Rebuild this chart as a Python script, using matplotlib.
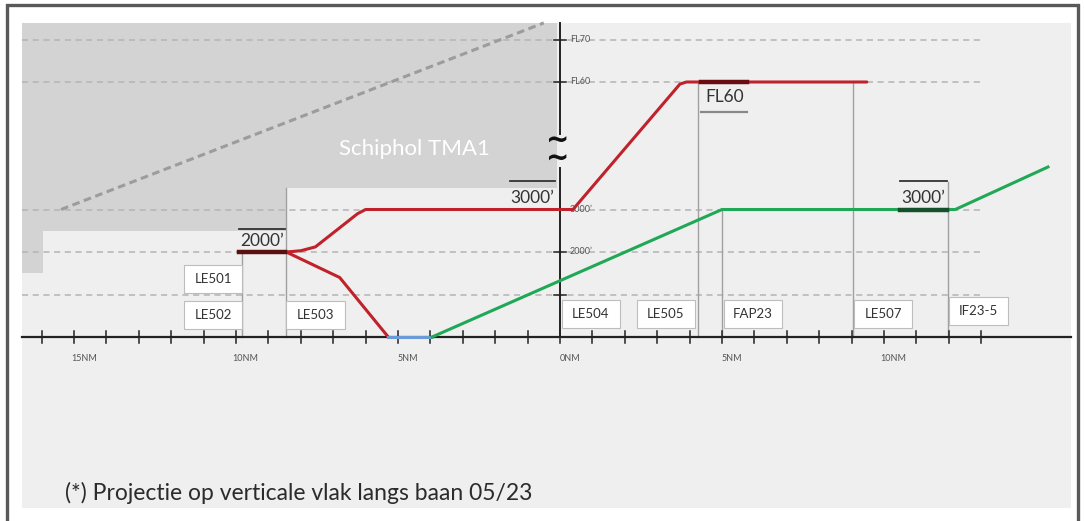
import matplotlib.pyplot as plt
from matplotlib.patches import Rectangle, Polygon

plt.rcParams['font.family'] = ['Lato', 'DejaVu Sans']

# afstand langs baan 05/23 in NM (0 = 0NM), hoogte in ft
tma_nm = [-0.1, -0.1, -8.45, -8.45, -15.95, -15.95]
tma_ft = [7400, 3500, 3500, 2500, 2500, 1500]

grid_ft = [1000, 2000, 3000, 6000, 7000]
alt_labels = ['', '2000’', '3000’', 'FL60', 'FL70']

tick_nm = list(range(-16, 14))
nm_label_pos = [-15, -10, -5, 0, 5, 10]
nm_labels = ['15NM', '10NM', '5NM', '0NM', '5NM', '10NM']

diag_nm = [-15.4, -0.5]
diag_ft = [3000, 7390]

red_nm = [-9.8, -8.45, -8.0, -7.55, -6.25, -6.0, 0.4, 3.7, 3.9, 9.47]
red_ft = [2000, 2000, 2030, 2120, 2900, 3000, 3000, 5950, 6000, 6000]
red_low_nm = [-8.45, -6.8, -5.3]
red_low_ft = [2000, 1400, 0]
blue_nm = [-5.3, -3.95]
blue_ft = [0, 0]
green_nm = [-3.95, 5.0, 12.2, 15.06]
green_ft = [0, 3000, 3000, 4000]

# verticale hulplijnen bij de waypoints (positie, bovenkant)
vline_nm = [-9.8, -8.45, 4.26, 5.0, 9.03, 11.98]
vline_top = [2000, 3500, 6000, 3000, 6000, 3650]

# waypoint labels: naam, linkerkant, onderkant
wp_names = ['LE501', 'LE502', 'LE503', 'LE504', 'LE505', 'FAP23', 'LE507', 'IF23-5']
wp_left = [-11.6, -11.6, -8.45, 0.05, 2.37, 5.05, 9.07, 12.02]
wp_bottom = [1030, 190, 190, 210, 210, 210, 210, 280]

# hoogterestricties: tekst, van, tot, hoogte van de streep onder de tekst
lim_text = ['2000’', '3000’', '3000’']
lim_from = [-9.9, -1.55, 10.5]
lim_to = [-8.5, -0.15, 11.93]
lim_bar = [2000, None, 3000]

W, H = 1084, 521
X0, SX = 560, 32.4      # px van 0NM, px per NM
Y0, SY = 337, 0.0425    # px van 0 ft, px per ft


def px_x(p):
    return (p - X0) / SX


def px_y(p):
    return (Y0 - p) / SY


fig = plt.figure(figsize=(W / 100, H / 100), dpi=100)
ax = fig.add_axes([0, 0, 1, 1])
ax.set_xlim(px_x(0), px_x(W))
ax.set_ylim(px_y(H), px_y(0))
ax.axis('off')

# kader en achtergrond
ax.add_patch(Rectangle((px_x(7), px_y(540)), px_x(1078) - px_x(7), px_y(5) - px_y(540),
                       fill=False, ec='#595959', lw=2.4, zorder=0))
pl, pr, pt, pb = px_x(22), px_x(1071), px_y(23), px_y(508)
ax.add_patch(Rectangle((pl, pb), pr - pl, pt - pb, fc='#efefef', ec='none', zorder=0))

# Schiphol TMA1
shade = [(pl, pt)] + list(zip(tma_nm, tma_ft)) + [(pl, tma_ft[-1])]
shade[1] = (tma_nm[0], pt)
ax.add_patch(Polygon(shade, closed=True, fc='#d3d3d3', ec='none', zorder=1))
ax.text(px_x(414), px_y(149), 'Schiphol TMA1', color='white', fontsize=16,
        ha='center', va='center', zorder=2)

# horizontale stippellijnen
for lvl in grid_ft:
    ax.plot([pl, 13.05], [lvl, lvl], color='#b4b4b4', lw=1.1, ls=(0, (4, 3)), zorder=2)
ax.plot(diag_nm, diag_ft, color='#9c9c9c', lw=2.2, ls=(0, (2.5, 1.5)), zorder=2)

for xv, top in zip(vline_nm, vline_top):
    ax.plot([xv, xv], [0, top], color='#a0a0a0', lw=1.0, zorder=3)

# assen
ax.plot([pl, pr], [0, 0], color='#222222', lw=1.6, zorder=4)
for t in tick_nm:
    ax.plot([t, t], [-130, 130], color='#222222', lw=1.1, zorder=4)
for pos, lab in zip(nm_label_pos, nm_labels):
    ax.text(pos + 0.3, -500, lab, fontsize=6.5, color='#555555', ha='center', va='center')
ax.plot([0, 0], [0, px_y(168)], color='#222222', lw=1.4, zorder=4)
ax.plot([0, 0], [px_y(134), pt], color='#222222', lw=1.4, zorder=4)
for lvl, lab in zip(grid_ft, alt_labels):
    ax.plot([-0.2, 0.2], [lvl, lvl], color='#222222', lw=1.1, zorder=4)
    ax.text(0.3, lvl, lab, fontsize=6.5, color='#555555', ha='left', va='center', zorder=4)
# onderbrekingsteken op de hoogte-as
ax.text(px_x(558), px_y(150), '~\n~', fontsize=20, fontweight='bold', color='#111111',
        family='DejaVu Sans', ha='center', va='center', linespacing=0.55, zorder=5)

# waypoint labels
for name, left, bottom in zip(wp_names, wp_left, wp_bottom):
    ax.add_patch(Rectangle((left, bottom), 1.8, 660, fc='white', ec='#bdbdbd', lw=0.8, zorder=5))
    ax.text(left + 0.9, bottom + 330, name, fontsize=9.5, color='#333333',
            ha='center', va='center', zorder=6)

# profielen
ax.plot(red_low_nm, red_low_ft, color='#c0222b', lw=2.2, zorder=6, solid_capstyle='round')
ax.plot(red_nm, red_ft, color='#c0222b', lw=2.2, zorder=6, solid_capstyle='round')
ax.plot(blue_nm, blue_ft, color='#6a9bd8', lw=2.2, zorder=6)
ax.plot(green_nm, green_ft, color='#1fa855', lw=2.2, zorder=6)

# hoogterestricties
for txt, x0, x1, bar in zip(lim_text, lim_from, lim_to, lim_bar):
    top = 2540 if bar == 2000 else 3660
    ax.plot([x0, x1], [top, top], color='#333333', lw=1.3, zorder=7)
    ty = 2270 if bar == 2000 else 3270
    ax.text((x0 + x1) / 2, ty, txt, fontsize=12.5, color='#333333', ha='center', va='center', zorder=7)
    if bar is not None:
        ax.plot([x0, x1], [bar, bar], color='#5a1010' if bar == 2000 else '#14502c', lw=3.2, zorder=7)

ax.plot([4.34, 5.76], [6000, 6000], color='#6a0d12', lw=3.2, zorder=7)
ax.text(5.08, px_y(97), 'FL60', fontsize=12.5, color='#333333', ha='center', va='center', zorder=7)
ax.plot([4.34, 5.76], [px_y(112)] * 2, color='#888888', lw=1.6, zorder=7)

ax.text(px_x(65), px_y(493), '(*) Projectie op verticale vlak langs baan 05/23',
        fontsize=16.5, color='#2b2b2b', ha='left', va='center')

fig.savefig('out.png', dpi=100)
